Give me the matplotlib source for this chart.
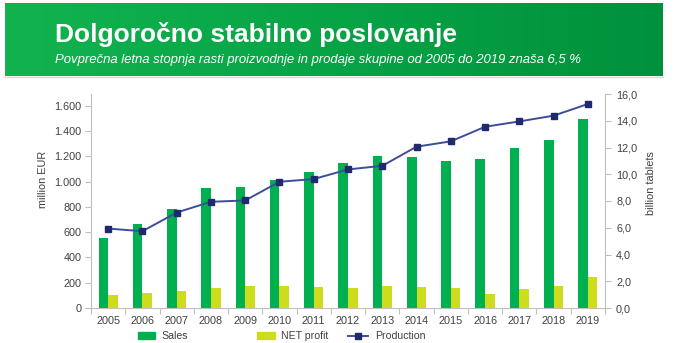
import numpy as np
import matplotlib.pyplot as plt
from matplotlib.patches import Rectangle
from matplotlib.lines import Line2D
from matplotlib.ticker import FuncFormatter
from matplotlib.colors import LinearSegmentedColormap

# Data
years = [str(y) for y in range(2005, 2020)]
sales = [555, 669, 783, 952, 955, 1013, 1076, 1145, 1201, 1193, 1167, 1177, 1267, 1333, 1495]
net_profit = [100, 116, 135, 159, 177, 175, 167, 161, 175, 169, 161, 111, 153, 175, 243]
production = [5.94, 5.74, 7.14, 7.94, 8.04, 9.44, 9.64, 10.36, 10.63, 12.06, 12.46, 13.55,
              13.95, 14.38, 15.25]
left_ticks = list(range(0, 1601, 200))
right_ticks = list(range(0, 17, 2))

title = "Dolgoročno stabilno poslovanje"
subtitle = ("Povprečna letna stopnja rasti proizvodnje in prodaje skupine "
            "od 2005 do 2019 znaša 6,5 %")

SALES_C = "#00B050"
PROFIT_C = "#CEDC1E"
LINE_C = "#3E4C9C"
MARK_C = "#1F2A6E"
SPINE_C = "#BFBFBF"
TXT_C = "#404040"

plt.rcParams["font.family"] = ["Liberation Sans", "DejaVu Sans"]

W, H = 681, 343
fig = plt.figure(figsize=(W / 100, H / 100), dpi=100)


def fx(px):
    return px / W


def fy(py):
    return 1 - py / H


# Green header banner with a horizontal gradient
bax = fig.add_axes([fx(5), fy(76), (663 - 5) / W, (76 - 3) / H])
grad = np.linspace(0, 1, 256).reshape(1, -1)
cmap = LinearSegmentedColormap.from_list("hdr", ["#12B34F", "#07A446", "#00913C"])
bax.imshow(grad, aspect="auto", cmap=cmap, extent=[0, 1, 0, 1])
bax.set_axis_off()
fig.add_artist(Line2D([fx(5), fx(663)], [fy(77), fy(77)], color="#D9D9D9", lw=1.0))

fig.text(fx(55), fy(42), title, color="white", fontsize=19, fontweight="bold",
         va="baseline", ha="left")
fig.text(fx(55), fy(63), subtitle, color="white", fontsize=9.45, fontstyle="italic",
         va="baseline", ha="left")

# Main chart
ax = fig.add_axes([fx(91), fy(308), (605 - 91) / W, (308 - 94) / H])
x = np.arange(len(years))
bw = 0.28
ax.bar(x - bw / 2, sales, bw, color=SALES_C, zorder=2)
ax.bar(x + bw / 2, net_profit, bw, color=PROFIT_C, zorder=2)
ax.set_xlim(-0.5, len(years) - 0.5)
ax.set_ylim(0, 1695)
ax.set_yticks(left_ticks)
ax.yaxis.set_major_formatter(FuncFormatter(lambda v, p: f"{int(v):,}".replace(",", ".")))

ax.set_xticks(np.arange(-0.5, len(years), 1))
ax.set_xticklabels([])
ax.set_xticks(x, minor=True)
ax.set_xticklabels(years, minor=True)
ax.tick_params(axis="x", which="major", length=4, color=SPINE_C, direction="out")
ax.tick_params(axis="x", which="minor", length=0, pad=6, labelsize=7.8, labelcolor=TXT_C)
ax.tick_params(axis="y", length=4, color=SPINE_C, labelsize=7.8, labelcolor=TXT_C, pad=3)

for s in ("top", "right"):
    ax.spines[s].set_visible(False)
for s in ("left", "bottom"):
    ax.spines[s].set_color(SPINE_C)

ax.set_ylabel("million EUR", fontsize=7.8, color=TXT_C)
ax.yaxis.set_label_coords(-0.083, 0.6)

ax2 = ax.twinx()
ax2.plot(x, production, color=LINE_C, lw=1.4, marker="s", ms=4,
         mfc=MARK_C, mec=MARK_C, zorder=3)
ax2.set_ylim(0, 16)
ax2.set_yticks(right_ticks)
ax2.yaxis.set_major_formatter(FuncFormatter(lambda v, p: f"{v:.1f}".replace(".", ",")))
ax2.tick_params(axis="y", length=4, color=SPINE_C, labelsize=7.8, labelcolor=TXT_C, pad=4)
for s in ("top", "left", "bottom"):
    ax2.spines[s].set_visible(False)
ax2.spines["right"].set_color(SPINE_C)
ax2.set_ylabel("billion tablets", fontsize=7.8, color=TXT_C, rotation=90)
ax2.yaxis.set_label_coords(1.079, 0.585)

# Legend below the chart
ly = 336
fig.add_artist(Rectangle((fx(138), fy(339)), (155 - 138) / W, 7 / H,
                         transform=fig.transFigure, color=SALES_C))
fig.text(fx(161), fy(ly), "Sales", fontsize=7.6, color=TXT_C, va="center")
fig.add_artist(Rectangle((fx(257), fy(339)), (275 - 257) / W, 7 / H,
                         transform=fig.transFigure, color=PROFIT_C))
fig.text(fx(281), fy(ly), "NET profit", fontsize=7.6, color=TXT_C, va="center")
fig.add_artist(Line2D([fx(348), fx(368)], [fy(ly), fy(ly)], color=LINE_C, lw=1.4))
fig.add_artist(Line2D([fx(358)], [fy(ly)], marker="s", ms=4, color=MARK_C))
fig.text(fx(375), fy(ly), "Production", fontsize=7.6, color=TXT_C, va="center")

fig.savefig("out.png", dpi=100)
